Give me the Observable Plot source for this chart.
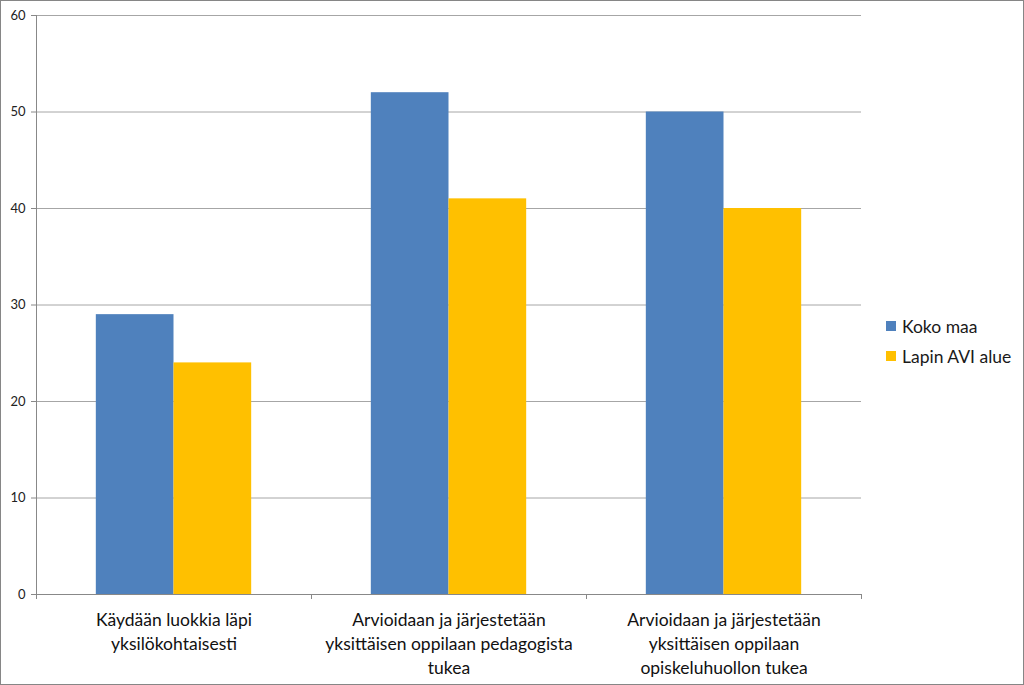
<!DOCTYPE html>
<html><head><meta charset="utf-8">
<script src="https://cdn.jsdelivr.net/npm/d3@7"></script>
<script src="https://cdn.jsdelivr.net/npm/@observablehq/plot@0.6"></script>
<style>
body{margin:0;background:#fff;}
#wrap{position:relative;width:1024px;height:685px;overflow:hidden;font-family:Lato,"Open Sans",sans-serif;background:#fff;}
#chart{position:absolute;left:0;top:0;}
#border{position:absolute;left:0;top:0;width:1024px;height:685px;box-sizing:border-box;border:1px solid #868686;pointer-events:none;}
#legend{position:absolute;left:886px;top:311px;font-size:17.5px;color:#1a1a1a;}
.item{display:flex;align-items:center;height:30px;}
.sw{width:10px;height:10px;margin-right:6px;}
</style></head>
<body><div id="wrap"><div id="chart"></div><div id="legend"></div><div id="border"></div></div>
<script>
const categories = [
  "Käydään luokkia läpi\nyksilökohtaisesti",
  "Arvioidaan ja järjestetään\nyksittäisen oppilaan pedagogista\ntukea",
  "Arvioidaan ja järjestetään\nyksittäisen oppilaan\nopiskeluhuollon tukea"
];
const series = ["Koko maa", "Lapin AVI alue"];
const kokoMaa = [29, 52, 50];
const lapinAvi = [24, 41, 40];
const colors = ["#4f81bd", "#ffc000"];
const yTicks = [0, 10, 20, 30, 40, 50, 60];

const data = categories.flatMap((c, i) => [
  {cat: c, series: series[0], value: kokoMaa[i]},
  {cat: c, series: series[1], value: lapinAvi[i]}
]);

const plot = Plot.plot({
  width: 1024, height: 685,
  marginLeft: 35, marginRight: 162, marginTop: 15, marginBottom: 91,
  style: {fontFamily: "Lato, 'Open Sans', sans-serif", background: "transparent"},
  fx: {domain: categories, padding: 0, label: null},
  x: {domain: series, paddingInner: 0, paddingOuter: 0.77, round: false, axis: null},
  y: {domain: [0, 60], label: null},
  color: {domain: series, range: colors},
  marks: [
    Plot.gridY(yTicks.slice(1), {stroke: "#a6a6a6", strokeOpacity: 1}),
    Plot.barY(data, {fx: "cat", x: "series", y: "value", fill: "series"}),
    Plot.axisY(yTicks, {tickSize: 5, tickPadding: 6, fontSize: 13, fill: "#222", stroke: "#888", label: null}),
    Plot.axisFx({anchor: "bottom", tickSize: 0, tickPadding: 15, fontSize: 17.5, fill: "#111", lineHeight: 1.35, label: null})
  ]
});

// axis lines and category boundary ticks, positioned from Plot's own scales
const fx = plot.scale("fx"), y = plot.scale("y");
const y0 = y.apply(0), yTop = y.apply(d3.max(yTicks));
const bounds = categories.map(c => fx.apply(c));
bounds.push(bounds[bounds.length - 1] + fx.bandwidth);
const g = d3.select(plot).append("g").attr("stroke", "#888").attr("shape-rendering", "crispEdges");
g.append("line").attr("x1", bounds[0]).attr("x2", bounds[bounds.length - 1]).attr("y1", y0).attr("y2", y0);
g.append("line").attr("x1", bounds[0]).attr("x2", bounds[0]).attr("y1", yTop).attr("y2", y0);
bounds.forEach(b => g.append("line").attr("x1", b).attr("x2", b).attr("y1", y0).attr("y2", y0 + 5));

document.getElementById("chart").appendChild(plot);

const legend = document.getElementById("legend");
series.forEach((s, i) => {
  const item = document.createElement("div");
  item.className = "item";
  item.innerHTML = `<div class="sw" style="background:${colors[i]}"></div><span>${s}</span>`;
  legend.appendChild(item);
});
</script>
</body></html>
